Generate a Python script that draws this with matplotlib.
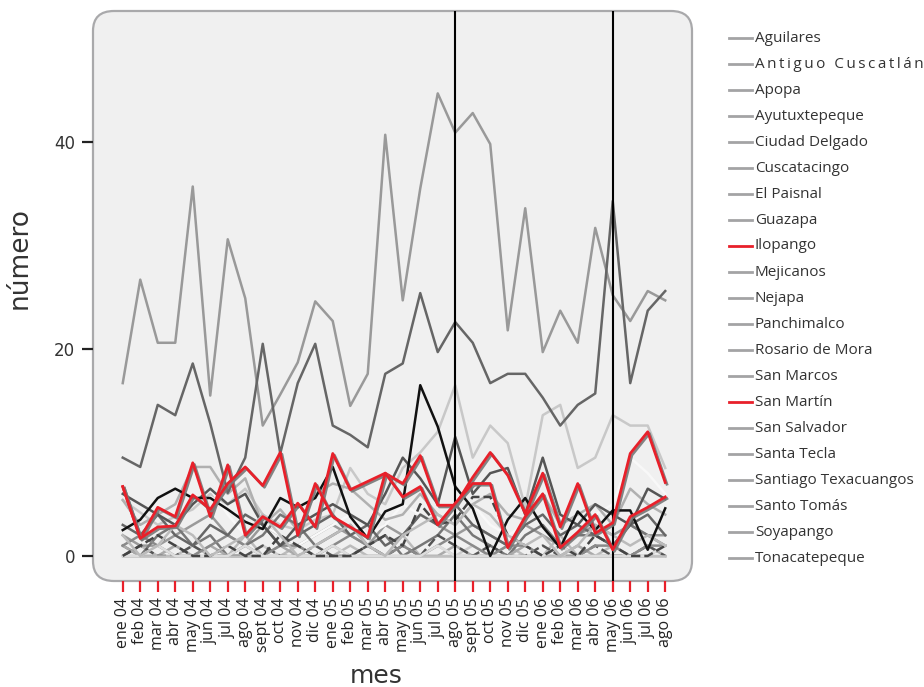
import matplotlib
matplotlib.use("Agg")
import matplotlib.pyplot as plt
import matplotlib.patheffects as pe
from matplotlib.patches import FancyBboxPatch
from matplotlib.lines import Line2D

months = ["ene 04", "feb 04", "mar 04", "abr 04", "may 04", "jun 04", "jul 04", "ago 04",
          "sept 04", "oct 04", "nov 04", "dic 04", "ene 05", "feb 05", "mar 05", "abr 05",
          "may 05", "jun 05", "jul 05", "ago 05", "sept 05", "oct 05", "nov 05", "dic 05",
          "ene 06", "feb 06", "mar 06", "abr 06", "may 06", "jun 06", "jul 06", "ago 06"]

aguilares = [0, 1, 0, 0, 1, 0, 0, 2, 0, 0, 1, 0, 0, 1, 0, 0, 2, 0, 1, 0, 0, 0, 1, 0, 0, 2, 0, 0, 1, 0, 0, 1]
antiguo_cuscatlan = [2, 1, 1, 2, 3, 4, 2, 1, 3, 2, 1, 2, 3, 2, 1, 3, 2, 4, 3, 2, 3, 2, 1, 3, 2, 1, 2, 3, 2, 3, 2, 2]
apopa = [5.4, 4.2, 3.0, 3.8, 4.5, 6.0, 5.0, 6.5, 4.0, 3.0, 2.5, 3.5, 4.0, 8.5, 6.0, 5.0,
         8.5, 10.0, 12.0, 16.5, 9.5, 12.6, 10.9, 4.7, 13.6, 14.6, 8.5, 9.5, 13.6, 12.6, 12.6, 8.5]
ayutuxtepeque = [3, 2, 1, 3, 5, 6.5, 4, 2, 3, 2, 1, 2, 3, 4, 2, 3, 5, 4, 3, 4, 5, 3, 2, 3, 4, 2, 3, 4, 5, 9.5, 8, 6]
ciudad_delgado = [5.4, 3.0, 4.0, 5.0, 8.6, 8.6, 6.0, 7.5, 3.0, 4.5, 2.5, 6.0, 7.0, 6.5, 5.0, 3.5,
                  4.0, 6.0, 4.0, 3.0, 5.0, 6.0, 4.0, 3.5, 6.0, 3.0, 4.0, 5.0, 3.0, 6.5, 5.0, 4.0]
cuscatancingo = [1, 0, 2, 3, 1, 2, 0, 1, 2, 4, 3, 1, 2, 3, 1, 2, 0, 1, 2, 4, 2, 1, 0, 2, 3, 1, 2, 2, 1, 3, 2, 1]
el_paisnal = [0, 0, 0, 1, 0, 0, 0, 0, 1, 0, 0, 0, 0, 0, 1, 0, 0, 0, 0, 0, 1, 0, 0, 0, 0, 0, 1, 0, 0, 0, 0, 0]
guazapa = [1, 0, 0, 1, 0, 1, 0, 0, 0, 1, 0, 0, 1, 0, 0, 0, 1, 0, 0, 1, 0, 0, 0, 1, 0, 0, 1, 0, 0, 0, 1, 0]
ilopango = [6.7, 1.7, 4.7, 3.8, 9.0, 3.8, 8.8, 2.0, 3.8, 2.8, 5.1, 2.8, 9.9, 6.4, 7.2, 8.0,
            7.0, 9.7, 4.9, 4.9, 7.6, 10.0, 7.8, 4.1, 8.0, 2.8, 7.0, 2.2, 3.2, 9.9, 12.0, 7.1]
mejicanos = [2.5, 3.5, 5.6, 6.5, 5.6, 5.6, 4.5, 3.3, 2.6, 5.6, 4.7, 5.6, 8.6, 3.8, 1.7, 4.3,
             5.0, 16.5, 12.5, 6.7, 4.6, 0.0, 3.5, 5.6, 2.8, 0.8, 4.3, 2.5, 4.4, 4.4, 0.6, 4.6]
nejapa = [0, 1, 0, 0, 1, 0, 0, 0, 1, 0, 0, 1, 0, 0, 1, 0, 1, 0, 2, 1, 0, 1, 0, 0, 1, 0, 0, 1, 0, 0, 1, 0]
panchimalco = [1, 2, 1, 0, 0, 1, 2, 1, 0, 1, 1, 0, 1, 2, 1, 0, 1, 0, 1, 2, 1, 0, 1, 1, 0, 1, 0, 1, 1, 0, 1, 1]
rosario_de_mora = [0, 0, 0, 0, 0, 0, 0, 0, 0, 0, 0, 0, 0, 0, 0, 0, 0, 0, 0, 0, 0, 0, 0, 0, 0, 0, 0, 0, 0, 0, 0, 0]
san_marcos = [3, 2, 4, 2, 1, 3, 2, 4, 3, 1, 2, 3, 4, 2, 3, 1, 2, 4, 3, 5, 3, 2, 1, 3, 4, 2, 3, 2, 1, 3, 4, 2]
san_martin = [6.7, 1.7, 2.8, 2.9, 5.9, 4.5, 7.0, 8.6, 6.8, 10.0, 2.0, 7.0, 3.8, 2.8, 1.8, 8.0,
              5.7, 6.7, 3.0, 5.1, 7.0, 7.0, 0.8, 3.8, 6.0, 0.8, 2.3, 4.0, 0.6, 3.8, 4.7, 5.7]
san_salvador = [16.7, 26.7, 20.6, 20.6, 35.7, 15.5, 30.6, 24.9, 12.6, 15.6, 18.7, 24.6, 22.7, 14.5, 17.6, 40.7,
                24.7, 35.5, 44.7, 40.9, 42.8, 39.8, 21.8, 33.6, 19.7, 23.7, 20.6, 31.7, 25.2, 22.7, 25.6, 24.7]
santa_tecla = [6.0, 5.0, 4.0, 3.0, 5.0, 6.5, 5.0, 6.0, 3.0, 1.0, 3.0, 4.0, 5.0, 4.0, 3.0, 6.0,
               9.5, 7.5, 5.0, 11.5, 6.0, 8.0, 8.5, 4.0, 9.5, 4.0, 3.0, 5.0, 4.0, 3.0, 6.5, 5.5]
santiago_texacuangos = [0, 0, 1, 0, 0, 0, 0, 1, 0, 0, 0, 0, 1, 0, 0, 0, 0, 0, 1, 0, 0, 0, 0, 0, 0, 1, 0, 0, 0, 0, 0, 1]
santo_tomas = [0, 1, 2, 1, 0, 0, 1, 0, 0, 2, 1, 0, 0, 0, 1, 2, 1.0, 5.0, 3.0, 3.5, 5.7, 5.7, 2.0, 1, 0, 1, 0, 2, 1, 0, 0, 1]
soyapango = [9.5, 8.6, 14.6, 13.6, 18.6, 12.8, 6.1, 9.5, 20.5, 9.9, 16.7, 20.5, 12.6, 11.7, 10.5, 17.6,
             18.6, 25.4, 19.7, 22.6, 20.6, 16.7, 17.6, 17.6, 15.3, 12.6, 14.6, 15.7, 34.3, 16.7, 23.7, 25.6]
tonacatepeque = [2, 0, 1, 3, 2, 0, 1, 2, 4, 2, 0, 1, 2, 3, 1, 0, 2, 3, 4, 3, 5, 4, 2, 1, 2, 0, 1, 3, 2, 1, 2, 1]

names = ["Aguilares", "Antiguo Cuscatlán", "Apopa", "Ayutuxtepeque", "Ciudad Delgado", "Cuscatacingo",
         "El Paisnal", "Guazapa", "Ilopango", "Mejicanos", "Nejapa", "Panchimalco", "Rosario de Mora",
         "San Marcos", "San Martín", "San Salvador", "Santa Tecla", "Santiago Texacuangos", "Santo Tomás",
         "Soyapango", "Tonacatepeque"]
series = [aguilares, antiguo_cuscatlan, apopa, ayutuxtepeque, ciudad_delgado, cuscatancingo,
          el_paisnal, guazapa, ilopango, mejicanos, nejapa, panchimalco, rosario_de_mora,
          san_marcos, san_martin, san_salvador, santa_tecla, santiago_texacuangos, santo_tomas,
          soyapango, tonacatepeque]
line_colors = ["#bbbbbb", "#9a9a9a", "#c8c8c8", "#f8f8f8", "#b0b0b0", "#777777",
               "#cccccc", "#aaaaaa", "#e8202a", "#111111", "#555555", "#8a8a8a", "#c0c0c0",
               "#666666", "#e8202a", "#999999", "#555555", "#dddddd", "#444444",
               "#666666", "#bbbbbb"]
line_styles = ["-", "-", "-", "-", "-", "-", "-", "-", "-", "-", "--", "-", "-",
               "-", "-", "-", "-", "-", "--", "-", "-"]

red = "#e8202a"
plt.rcParams["font.family"] = ["Open Sans", "DejaVu Sans"]

fig = plt.figure(figsize=(9.24, 6.87), dpi=100)
ax = fig.add_axes([93 / 924, 1 - 581 / 687, 599 / 924, 570 / 687])
ax.patch.set_visible(False)
for s in ax.spines.values():
    s.set_visible(False)

box = FancyBboxPatch((0, 0), 1, 1, boxstyle="round,pad=0,rounding_size=0.035",
                     transform=ax.transAxes, facecolor="#f0f0f0", edgecolor="#a9a9ab",
                     linewidth=1.6, zorder=0, clip_on=False)
ax.add_patch(box)

x = list(range(len(months)))
for name, vals, col, ls in zip(names, series, line_colors, line_styles):
    if col == red:
        continue
    z = 3 if col == "#111111" else 2
    ax.plot(x, vals, color=col, lw=1.8, ls=ls, zorder=z)

ax.axvline(months.index("ago 05"), color="black", lw=1.5, zorder=4)
ax.axvline(months.index("may 06"), color="black", lw=1.5, zorder=4)

for vals in [ilopango, san_martin]:
    ax.plot(x, vals, color=red, lw=2.0, zorder=5,
            path_effects=[pe.SimpleLineShadow(offset=(1.2, -1.2), shadow_color="#777777", alpha=0.9),
                          pe.Normal()])

ax.set_xlim(-1.70, 32.53)
ax.set_ylim(-2.42, 52.66)
ax.set_xticks(x)
ax.set_xticklabels(months, rotation=90, fontsize=11.5, color="#222222")
ax.tick_params(axis="x", colors=red, length=8, width=1.6, pad=4, labelcolor="#222222")
ax.set_yticks([0, 20, 40])
ax.set_yticklabels(["0", "20", "40"], fontsize=12, color="#333333", family="DejaVu Sans")
ax.tick_params(axis="y", color="#222222", length=8, width=1.6, pad=5)

fig.text(20 / 924, 1 - 258 / 687, "número", rotation=90, fontsize=19, color="#333333",
         ha="center", va="center", family="DejaVu Sans")
fig.text(376 / 924, 1 - 683 / 687, "mes", fontsize=18, color="#333333",
         ha="center", va="baseline", family="DejaVu Sans")

for i, name in enumerate(names):
    yy = 1 - (38 + 26 * i) / 687
    col = red if name in ("Ilopango", "San Martín") else "#a3a3a5"
    fig.add_artist(Line2D([729 / 924, 752 / 924], [yy, yy], color=col, lw=2))
    label = "\u2009".join(name) if name == "Antiguo Cuscatlán" else name
    fig.text(755 / 924, yy, label, fontsize=11, color="#333333", va="center", ha="left")

fig.savefig("out.png", dpi=100)
